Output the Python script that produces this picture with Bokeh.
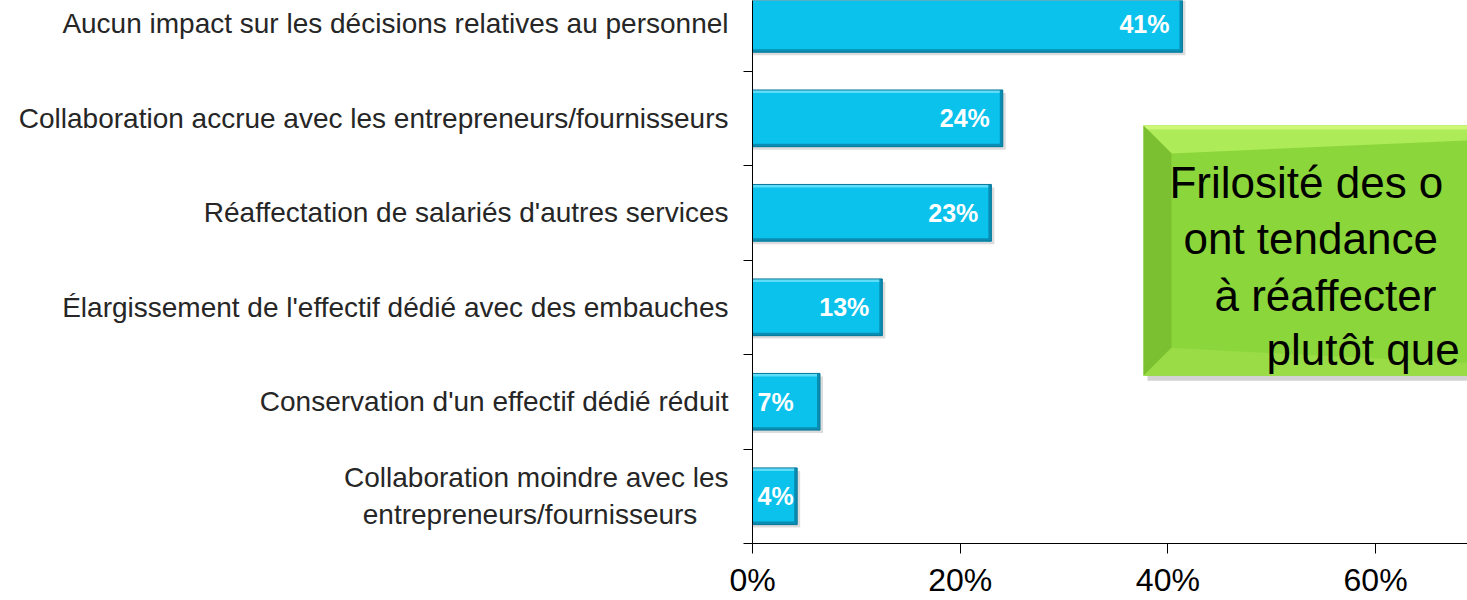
from bokeh.plotting import figure
from bokeh.models import Range1d, FixedTicker, PrintfTickFormatter
from bokeh.embed import file_html
from bokeh.resources import INLINE
from bokeh.core.properties import value

# ---------------- data ----------------
categories = [
    "Aucun impact sur les décisions relatives au personnel",
    "Collaboration accrue avec les entrepreneurs/fournisseurs",
    "Réaffectation de salariés d'autres services",
    "Élargissement de l'effectif dédié avec des embauches",
    "Conservation d'un effectif dédié réduit",
    "Collaboration moindre avec les\nentrepreneurs/fournisseurs",
]
values = [41.4, 24.1, 23.0, 12.5, 6.5, 4.3]
value_labels = ["41%", "24%", "23%", "13%", "7%", "4%"]
x_ticks = [0, 20, 40, 60]
callout_lines = ["Frilosité des o", "ont tendance", "à réaffecter", "plutôt que"]

# ---------------- figure ----------------
n = len(categories)
ypos = [n - 1 - i for i in range(n)]
FONT = value("Liberation Sans")
PXX = 20 / 207.7      # data units per pixel, x
PXY = 1 / 95.0        # data units per pixel, y

p = figure(width=1467, height=600, output_backend="svg", toolbar_location=None,
           x_range=Range1d(0, 68.85), y_range=Range1d(-0.5, 5.247),
           min_border_left=752, min_border_right=0, min_border_top=0,
           min_border_bottom=0)
p.outline_line_color = None
p.grid.visible = False
p.background_fill_color = "white"
p.border_fill_color = "white"


def centred(label):
    # pad the shorter line with non-breaking spaces so the two lines look centred
    if "\n" not in label:
        return label
    a, b = label.split("\n")
    d = len(a) - len(b)
    return a + "\n" + b + "\u00a0" * max(d // 1, 0)


# y axis: labels at centers, ticks at boundaries
ya = p.yaxis[0]
ya.ticker = FixedTicker(ticks=ypos, minor_ticks=[k - 0.5 for k in range(n + 1)])
ya.major_label_overrides = {y: centred(c) for y, c in zip(ypos, categories)}
ya.major_tick_in = 0
ya.major_tick_out = 0
ya.minor_tick_in = 0
ya.minor_tick_out = 9
ya.minor_tick_line_color = "black"
ya.axis_line_color = "black"
ya.major_label_standoff = 15
ya.major_label_text_font = "Liberation Sans"
ya.major_label_text_font_size = "28px"
ya.major_label_text_color = "#262626"

# x axis
xa = p.xaxis[0]
xa.ticker = FixedTicker(ticks=x_ticks)
xa.formatter = PrintfTickFormatter(format="%d%%")
xa.major_tick_in = 0
xa.major_tick_out = 10
xa.minor_tick_out = 0
xa.minor_tick_in = 0
xa.axis_line_color = "black"
xa.major_tick_line_color = "black"
xa.major_label_standoff = 8
xa.major_label_text_font = "Liberation Sans"
xa.major_label_text_font_size = "32px"
xa.major_label_text_color = "black"

# ---------------- bars ----------------
H = 0.6
p.hbar(y=[y - 3 * PXY for y in ypos], left=0, right=[v + 3 * PXX for v in values],
       height=H, fill_color="#9a9a9a", fill_alpha=0.35, line_color=None)
p.hbar(y=ypos, left=0, right=values, height=H, fill_color="#0BC2EC", line_color=None)
p.hbar(y=[y + H / 2 - 1.5 * PXY for y in ypos], left=0, right=values, height=3 * PXY,
       fill_color="#5FDDF8", line_color=None)
p.hbar(y=[y - H / 2 + 1.5 * PXY for y in ypos], left=0, right=values, height=3 * PXY,
       fill_color="#0A8DB2", line_color=None)
p.hbar(y=ypos, left=[v - 3 * PXX for v in values], right=values, height=H,
       fill_color="#0A8DB2", line_color=None)
p.hbar(y=ypos, left=0, right=values, height=H, fill_color=None,
       line_color="#07789A", line_width=1)

# value labels
big = [i for i, v in enumerate(values) if v >= 10]
small = [i for i, v in enumerate(values) if v < 10]
p.text(x=[values[i] - 13 * PXX for i in big], y=[ypos[i] for i in big],
       text=[value_labels[i] for i in big], text_align="right", text_baseline="middle",
       text_font=FONT, text_font_style="bold", text_font_size="25px", text_color="white")
p.text(x=[5 * PXX for i in small], y=[ypos[i] for i in small],
       text=[value_labels[i] for i in small], text_align="left", text_baseline="middle",
       text_font=FONT, text_font_style="bold", text_font_size="25px", text_color="white")

# ---------------- callout box ----------------
bx0, bx1 = 37.65, 75.0
by0, by1 = 1.276, 3.923
bvx = 28 * PXX
bvy = 28 * PXY
# shadow
p.quad(left=bx0 + 4 * PXX, right=bx1, bottom=by0 - 5 * PXY, top=by1 - 4 * PXY,
       fill_color="#808080", fill_alpha=0.35, line_color=None)
# main
p.quad(left=bx0, right=bx1, bottom=by0, top=by1, fill_color="#8BD63A", line_color=None)
# top bevel (light)
p.patch(x=[bx0, bx1, bx1, bx0 + bvx], y=[by1, by1, by1 - 12 * PXY, by1 - bvy],
        fill_color="#AEEB58", line_color=None)
p.quad(left=bx0, right=bx1, bottom=by1 - 4 * PXY, top=by1, fill_color="#CDF877", line_color=None)
# left bevel (dark)
p.patch(x=[bx0, bx0 + bvx, bx0 + bvx, bx0], y=[by1, by1 - bvy, by0 + bvy, by0],
        fill_color="#7AC030", line_color=None)
# bottom bevel (lighter)
p.patch(x=[bx0, bx0 + bvx, bx1, bx1], y=[by0, by0 + bvy, by0 + 9 * PXY, by0],
        fill_color="#99DC46", line_color=None)

line_x = [40.15, 41.50, 44.49, 49.49]
line_y = [3.325, 2.726, 2.127, 1.549]
p.text(x=line_x, y=line_y, text=callout_lines, text_align="left",
       text_baseline="alphabetic", text_font=FONT, text_font_size="44px",
       text_color="black")

open("out.html", "w").write(file_html(p, INLINE))
